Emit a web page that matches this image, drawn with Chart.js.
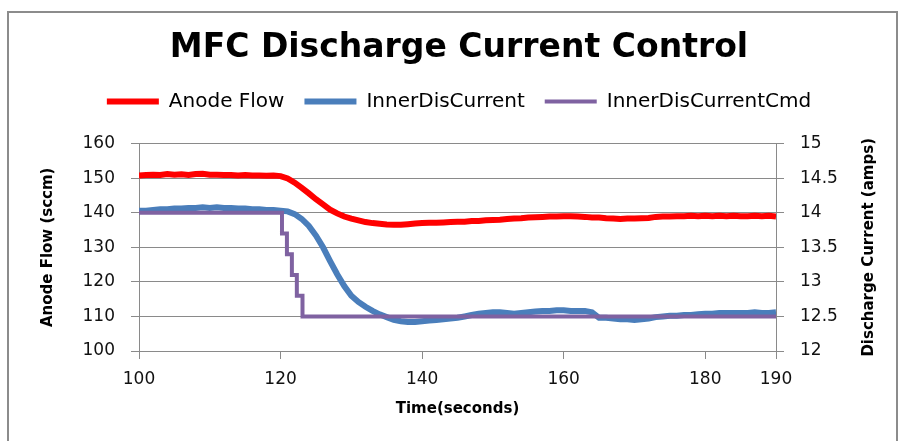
<!DOCTYPE html>
<html>
<head>
<meta charset="utf-8">
<script src="https://cdn.jsdelivr.net/npm/chart.js@4.4.1/dist/chart.umd.min.js"></script>
<style>
  html, body { margin: 0; padding: 0; background: #fff; }
</style>
</head>
<body>
<canvas id="chart" width="902" height="441"></canvas>
<script>
// time axis, one sample per second
const seconds = [100, 101, 102, 103, 104, 105, 106, 107, 108, 109,
  110, 111, 112, 113, 114, 115, 116, 117, 118, 119,
  120, 121, 122, 123, 124, 125, 126, 127, 128, 129,
  130, 131, 132, 133, 134, 135, 136, 137, 138, 139,
  140, 141, 142, 143, 144, 145, 146, 147, 148, 149,
  150, 151, 152, 153, 154, 155, 156, 157, 158, 159,
  160, 161, 162, 163, 164, 165, 166, 167, 168, 169,
  170, 171, 172, 173, 174, 175, 176, 177, 178, 179,
  180, 181, 182, 183, 184, 185, 186, 187, 188, 189, 190];

// sccm
const anodeFlow = [150.8, 150.9, 151.0, 150.9, 151.2, 151.0, 151.1, 150.9, 151.2, 151.3,
  151.0, 151.0, 150.9, 150.9, 150.8, 150.9, 150.8, 150.8, 150.7, 150.8,
  150.6, 149.9, 148.7, 147.2, 145.6, 143.9, 142.4, 140.9, 139.8, 138.9,
  138.3, 137.8, 137.3, 137.0, 136.8, 136.6, 136.5, 136.5, 136.7, 136.9,
  137.0, 137.1, 137.1, 137.2, 137.3, 137.4, 137.4, 137.6, 137.6, 137.8,
  137.9, 138.0, 138.2, 138.3, 138.4, 138.6, 138.7, 138.8, 138.9, 138.9,
  139.0, 139.0, 138.9, 138.8, 138.6, 138.6, 138.4, 138.3, 138.2, 138.3,
  138.3, 138.4, 138.5, 138.8, 138.9, 138.9, 139.0, 139.0, 139.1, 139.0,
  139.1, 139.0, 139.1, 139.0, 139.1, 139.0, 139.0, 139.1, 139.0, 139.1, 138.9];

// amps
const innerDisCurrent = [14.03, 14.03, 14.04, 14.05, 14.05, 14.06, 14.06, 14.07, 14.07, 14.08,
  14.07, 14.08, 14.07, 14.07, 14.06, 14.06, 14.05, 14.05, 14.04, 14.04,
  14.03, 14.02, 13.98, 13.91, 13.81, 13.67, 13.50, 13.30, 13.11, 12.94,
  12.80, 12.71, 12.64, 12.58, 12.53, 12.49, 12.45, 12.43, 12.42, 12.42,
  12.43, 12.44, 12.45, 12.46, 12.47, 12.48, 12.50, 12.52, 12.54, 12.55,
  12.56, 12.56, 12.55, 12.54, 12.55, 12.56, 12.57, 12.58, 12.58, 12.59,
  12.59, 12.58, 12.58, 12.58, 12.56, 12.48, 12.48, 12.47, 12.46, 12.46,
  12.45, 12.46, 12.47, 12.49, 12.50, 12.51, 12.51, 12.52, 12.52, 12.53,
  12.54, 12.54, 12.55, 12.55, 12.55, 12.55, 12.55, 12.56, 12.55, 12.55, 12.56];

// command changes (stepped)
const cmdSeconds = [100, 120.2, 120.9, 121.6, 122.3, 123.1, 190];
const cmdAmps = [14.0, 13.7, 13.4, 13.1, 12.8, 12.5, 12.5];

const gridGray = '#8a8a8a';
const rightTitle = 'Discharge Current (amps)';

// outer frame + right axis title (reads bottom to top like the left one)
const frame = {
  id: 'frame',
  beforeInit(chart) {
    const fit = chart.legend.fit;
    chart.legend.fit = function () {
      fit.call(this);
      this.height += 22;
    };
  },
  afterDraw(chart) {
    const ctx = chart.ctx;
    ctx.save();
    ctx.strokeStyle = '#8c8c8c';
    ctx.lineWidth = 2;
    ctx.strokeRect(8, 12, 889, 445);
    const a = chart.chartArea;
    ctx.translate(869, (a.top + a.bottom) / 2);
    ctx.rotate(-Math.PI / 2);
    ctx.fillStyle = '#000';
    ctx.font = 'bold 15px "DejaVu Sans"';
    ctx.textAlign = 'center';
    ctx.textBaseline = 'middle';
    ctx.fillText(rightTitle, 0, 0);
    ctx.restore();
  }
};

new Chart(document.getElementById('chart'), {
  type: 'line',
  data: {
    datasets: [
      {
        label: 'Anode Flow',
        data: seconds.map((t, i) => ({ x: t, y: anodeFlow[i] })),
        borderColor: '#ff0000',
        backgroundColor: '#ff0000',
        borderWidth: 6,
        pointRadius: 0,
        yAxisID: 'yFlow',
        order: 3
      },
      {
        label: 'InnerDisCurrent',
        data: seconds.map((t, i) => ({ x: t, y: innerDisCurrent[i] })),
        borderColor: '#4a7ebb',
        backgroundColor: '#4a7ebb',
        borderWidth: 6,
        pointRadius: 0,
        yAxisID: 'yAmps',
        order: 2
      },
      {
        label: 'InnerDisCurrentCmd',
        data: cmdSeconds.map((t, i) => ({ x: t, y: cmdAmps[i] })),
        borderColor: '#7f62a1',
        backgroundColor: '#7f62a1',
        borderWidth: 4,
        pointRadius: 0,
        stepped: 'before',
        yAxisID: 'yAmps',
        order: 1
      }
    ]
  },
  options: {
    responsive: false,
    animation: false,
    layout: { padding: { left: 30, right: 14, top: 20, bottom: 8 } },
    plugins: {
      title: {
        display: true,
        text: 'MFC Discharge Current Control',
        color: '#000',
        font: { family: 'DejaVu Sans', size: 33, weight: 'bold' },
        padding: { top: 9, bottom: 3 }
      },
      legend: {
        labels: {
          usePointStyle: true,
          pointStyle: 'line',
          pointStyleWidth: 52,
          padding: 20,
          color: '#000',
          font: { family: 'DejaVu Sans', size: 20 },
          sort: (a, b) => a.datasetIndex - b.datasetIndex
        }
      },
      tooltip: { enabled: false }
    },
    scales: {
      x: {
        type: 'linear',
        min: 100,
        max: 190,
        ticks: { stepSize: 20, padding: 10, color: '#111', font: { family: 'DejaVu Sans', size: 17 } },
        grid: { drawOnChartArea: false, tickLength: 8, color: gridGray },
        border: { color: gridGray },
        title: {
          display: true,
          text: 'Time(seconds)',
          color: '#000',
          font: { family: 'DejaVu Sans', size: 15, weight: 'bold' },
          padding: { top: 0, bottom: 15 }
        },
        afterFit(s) { s.height = 82; }
      },
      yFlow: {
        position: 'left',
        min: 100,
        max: 160,
        ticks: { stepSize: 10, padding: 16, color: '#111', font: { family: 'DejaVu Sans', size: 17 } },
        grid: { tickLength: 8, color: gridGray },
        border: { color: gridGray },
        title: {
          display: true,
          text: 'Anode Flow (sccm)',
          color: '#000',
          font: { family: 'DejaVu Sans', size: 15, weight: 'bold' },
          padding: { top: 9, bottom: 0 }
        },
        afterFit(s) { s.width = 109; }
      },
      yAmps: {
        position: 'right',
        min: 12,
        max: 15,
        ticks: {
          stepSize: 0.5,
          padding: 16,
          color: '#111',
          font: { family: 'DejaVu Sans', size: 17 },
          callback: v => String(v)
        },
        grid: { drawOnChartArea: false, tickLength: 8, color: gridGray },
        border: { color: gridGray },
        title: { display: false },
        afterFit(s) { s.width = 112; }
      }
    }
  },
  plugins: [frame]
});
</script>
</body>
</html>
